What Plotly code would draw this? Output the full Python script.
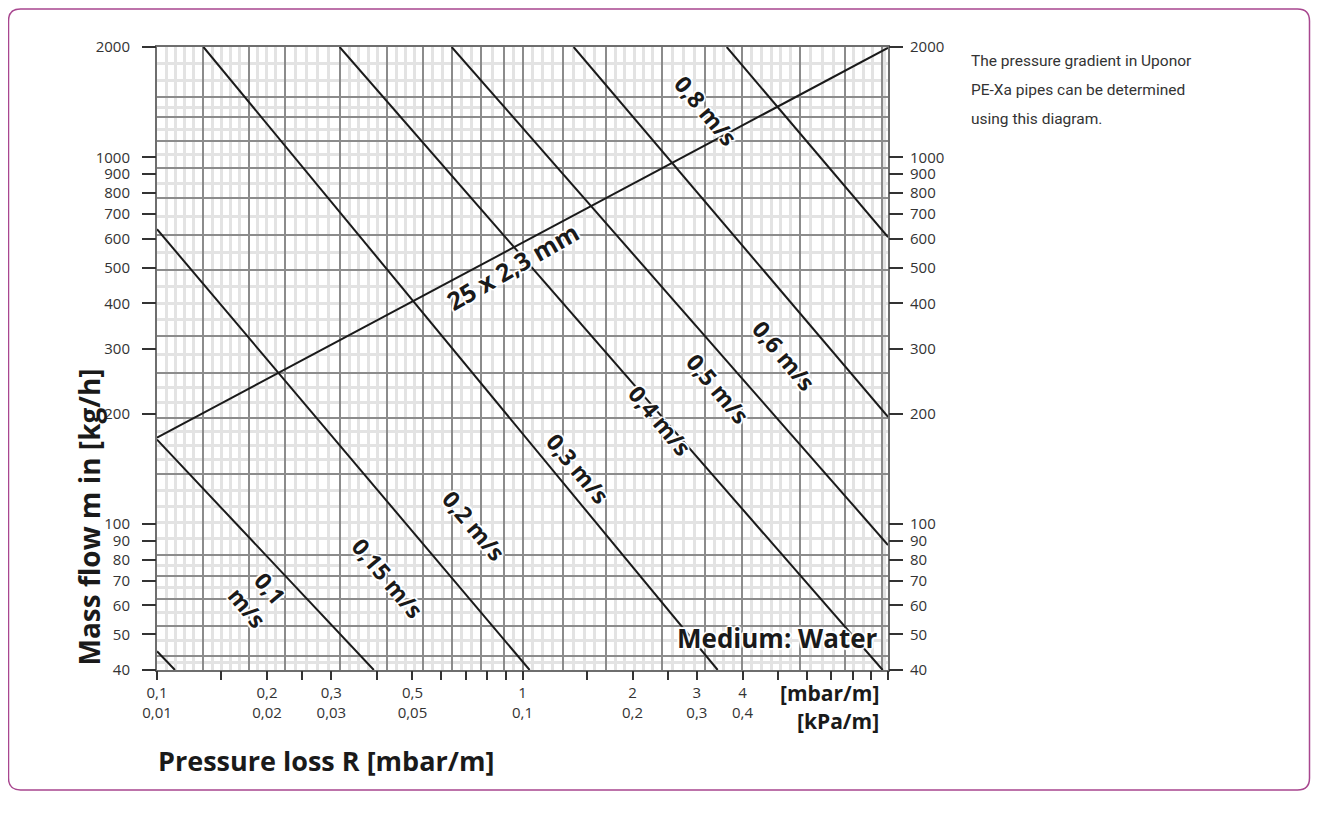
import numpy as np
import plotly.graph_objects as go

# ---------------- data ----------------
pipe_label = "25 x 2,3 mm"
pipe_x = [0.1, 10.0]
pipe_y = [172, 1990]

velocity_labels = ["0,1<br>m/s", "0,15 m/s", "0,2 m/s", "0,3 m/s",
                   "0,4 m/s", "0,5 m/s", "0,6 m/s", "0,8 m/s"]
velocity_x = [[0.1, 0.112], [0.1, 0.392], [0.1, 1.046], [0.134, 3.42],
              [0.316, 9.67], [0.640, 10.0], [1.38, 10.0], [3.62, 10.0]]
velocity_y = [[45, 40], [170, 40], [637, 40], [2000, 40],
              [2000, 40], [2000, 87.7], [2000, 196], [2000, 606]]
# label anchor points (pressure loss, mass flow)
velocity_label_x = [0.19, 0.428, 0.735, 1.416, 2.374, 3.42, 5.18, 3.17]
velocity_label_y = [62.9, 71.3, 99.4, 142.2, 192.1, 234.9, 288.9, 1345]
pipe_label_xy = (0.94, 505)
medium_label = "Medium: Water"
medium_label_xy = (10.0, 48.9)

y_tick_vals = [40, 50, 60, 70, 80, 90, 100, 200, 300, 400, 500, 600, 700,
               800, 900, 1000, 2000]
x_tick_vals = [0.1, 0.15, 0.2, 0.25, 0.3, 0.4, 0.5, 0.6, 0.7, 0.8, 0.9, 1,
               1.5, 2, 2.5, 3, 4, 5, 6, 7, 8, 9, 10]
x_tick_mbar = {0.1: "0,1", 0.2: "0,2", 0.3: "0,3", 0.5: "0,5", 1: "1",
               2: "2", 3: "3", 4: "4"}
x_tick_kpa = {0.1: "0,01", 0.2: "0,02", 0.3: "0,03", 0.5: "0,05", 1: "0,1",
              2: "0,2", 3: "0,3", 4: "0,4"}

# background graph-paper lines (independent of the axis ticks)
paper_h_major = [43.7, 52.8, 62.6, 72.2, 82.5, 137, 195, 259, 325, 493, 616,
                 773, 935, 1109, 1285, 1462]
paper_v_major = [0.1336, 0.1785, 0.2236, 0.3161, 0.427, 0.5343, 0.64, 0.7685,
                 0.8884, 1.003, 1.288, 1.689, 2.414, 3.151, 3.997, 5.733,
                 7.612, 9.612]

X_RANGE = (0.1, 10.0)
Y_RANGE = (40, 2000)

# page offset of the plotly div inside the browser window
OFF = 8
W, H = 1314, 808
ML, MR, MT, MB = 149, 434, 39, 146
PW, PH = W - ML - MR, H - MT - MB


def px_x(px):
    return (px - OFF - ML) / PW


def px_y(py):
    return (H - MB - (py - OFF)) / PH


def subdivide(edges, lo, hi, step_px, px_per_decade):
    pts = [lo] + sorted(edges) + [hi]
    out = []
    for a, b in zip(pts[:-1], pts[1:]):
        gap = np.log10(b / a) * px_per_decade
        n = max(2, int(round(gap / step_px)))
        for k in range(1, n):
            out.append(float(a * (b / a) ** (k / n)))
    return out


paper_h_minor = subdivide(paper_h_major, *Y_RANGE, 15, PH / np.log10(50))
paper_v_minor = subdivide(paper_v_major, *X_RANGE, 10, PW / 2)

FONT = "Open Sans"
SIDE_FONT = "Roboto"
INK = "#1a1a1a"
TXT = "#333333"
DARK_GRID = "#8c8c8c"
LIGHT_GRID = "#e3e3e3"
HALO = ("white 1px 1px 1px, white -1px -1px 1px, white 1px -1px 1px, "
        "white -1px 1px 1px, white 0px 2px 1px, white 0px -2px 1px, "
        "white 2px 0px 1px, white -2px 0px 1px")

fig = go.Figure()

for vx, vy in zip(velocity_x, velocity_y):
    fig.add_trace(go.Scatter(x=vx, y=vy, mode="lines",
                             line=dict(color=INK, width=2),
                             showlegend=False, hoverinfo="skip"))
fig.add_trace(go.Scatter(x=pipe_x, y=pipe_y, mode="lines",
                         line=dict(color=INK, width=2),
                         showlegend=False, hoverinfo="skip"))
# empty traces to host the tick axes
fig.add_trace(go.Scatter(x=[], y=[], xaxis="x2", yaxis="y2",
                         showlegend=False, hoverinfo="skip"))
fig.add_trace(go.Scatter(x=[], y=[], xaxis="x2", yaxis="y3",
                         showlegend=False, hoverinfo="skip"))

lx = [np.log10(X_RANGE[0]), np.log10(X_RANGE[1])]
ly = [np.log10(Y_RANGE[0]), np.log10(Y_RANGE[1])]

fig.update_layout(
    width=W, height=H,
    margin=dict(l=ML, r=MR, t=MT, b=MB),
    paper_bgcolor="white", plot_bgcolor="white",
    font=dict(family=FONT, color=TXT, size=15),
    xaxis=dict(type="log", range=lx, showgrid=True, gridcolor=DARK_GRID,
               gridwidth=2, tickvals=paper_v_major, showticklabels=False,
               ticks="", zeroline=False, showline=True, linecolor="#6e6e6e",
               linewidth=2, mirror=True,
               minor=dict(tickvals=paper_v_minor, showgrid=True,
                          gridcolor=LIGHT_GRID, gridwidth=2.5, ticks="")),
    yaxis=dict(type="log", range=ly, showgrid=True, gridcolor=DARK_GRID,
               gridwidth=2, tickvals=paper_h_major, showticklabels=False,
               ticks="", zeroline=False, showline=True, linecolor="#6e6e6e",
               linewidth=2, mirror=True,
               minor=dict(tickvals=paper_h_minor, showgrid=True,
                          gridcolor=LIGHT_GRID, gridwidth=2.5, ticks="")),
    xaxis2=dict(type="log", range=lx, overlaying="x", side="bottom",
                anchor="y", showgrid=False, zeroline=False,
                tickvals=x_tick_vals,
                ticktext=[(x_tick_mbar[v] + "<br>" + x_tick_kpa[v])
                          if v in x_tick_mbar else "" for v in x_tick_vals],
                ticks="outside", ticklen=9, tickwidth=1.5, tickcolor=TXT,
                tickfont=dict(family=FONT, size=15, color=TXT),
                showline=False),
    yaxis2=dict(type="log", range=ly, overlaying="y", side="left",
                anchor="x", showgrid=False, zeroline=False,
                tickvals=y_tick_vals, ticktext=[str(v) for v in y_tick_vals],
                ticks="outside", ticklen=14, tickwidth=1.5, tickcolor=TXT,
                ticklabelstandoff=9,
                tickfont=dict(family=FONT, size=15, color=TXT)),
    yaxis3=dict(type="log", range=ly, overlaying="y", side="right",
                anchor="x", showgrid=False, zeroline=False,
                tickvals=y_tick_vals, ticktext=[str(v) for v in y_tick_vals],
                ticks="outside", ticklen=14, tickwidth=1.5, tickcolor=TXT,
                ticklabelstandoff=4,
                tickfont=dict(family=FONT, size=15, color=TXT)),
)

ann = []
for lab, x, y in zip(velocity_labels, velocity_label_x, velocity_label_y):
    ann.append(dict(x=np.log10(x), y=np.log10(y), xref="x", yref="y",
                    xanchor="center", yanchor="middle",
                    text="<b>" + lab + "</b>", showarrow=False, textangle=50,
                    font=dict(family=FONT, size=23, color=INK, shadow=HALO)))
ann.append(dict(x=np.log10(pipe_label_xy[0]), y=np.log10(pipe_label_xy[1]),
                xref="x", yref="y", xanchor="center", yanchor="middle",
                text="<b>" + pipe_label + "</b>",
                showarrow=False, textangle=-30,
                font=dict(family=FONT, size=25, color=INK, shadow=HALO)))
ann.append(dict(x=np.log10(medium_label_xy[0]), y=np.log10(medium_label_xy[1]),
                xref="x", yref="y", xanchor="right", yanchor="middle",
                xshift=-8, text="<b>" + medium_label + "</b>",
                showarrow=False,
                font=dict(family=FONT, size=26, color=INK, shadow=HALO)))

# axis titles and unit captions
ann.append(dict(x=px_x(88), y=px_y(668), xref="paper", yref="paper",
                xanchor="center", yanchor="bottom",
                text="<b>Mass flow m in [kg/h]</b>", textangle=-90,
                showarrow=False, font=dict(family=FONT, size=28, color=INK)))
ann.append(dict(x=px_x(156), y=px_y(760), xref="paper", yref="paper",
                xanchor="left", yanchor="middle",
                text="<b>Pressure loss R [mbar/m]</b>",
                showarrow=False, font=dict(family=FONT, size=27, color=INK)))
ann.append(dict(x=px_x(881), y=px_y(693), xref="paper", yref="paper",
                xanchor="right", yanchor="middle", text="<b>[mbar/m]</b>",
                showarrow=False, font=dict(family=FONT, size=21, color=INK)))
ann.append(dict(x=px_x(881), y=px_y(721), xref="paper", yref="paper",
                xanchor="right", yanchor="middle", text="<b>[kPa/m]</b>",
                showarrow=False, font=dict(family=FONT, size=21, color=INK)))

side_text = ["The pressure gradient in Uponor", "PE-Xa pipes can be determined",
             "using this diagram."]
for i, t in enumerate(side_text):
    ann.append(dict(x=px_x(969), y=px_y(61 + 29 * i), xref="paper",
                    yref="paper", xanchor="left", yanchor="middle", text=t,
                    showarrow=False,
                    font=dict(family=SIDE_FONT, size=15.5, color=TXT)))

fig.update_layout(annotations=ann)

# rounded frame around the whole panel
x0, x1 = px_x(8.5), px_x(1309.5)
y0, y1 = px_y(790), px_y(9)
rx, ry = 12 / PW, 12 / PH
path = (f"M {x0+rx},{y0} L {x1-rx},{y0} Q {x1},{y0} {x1},{y0+ry} "
        f"L {x1},{y1-ry} Q {x1},{y1} {x1-rx},{y1} L {x0+rx},{y1} "
        f"Q {x0},{y1} {x0},{y1-ry} L {x0},{y0+ry} Q {x0},{y0} {x0+rx},{y0} Z")
fig.add_shape(type="path", path=path, xref="paper", yref="paper",
              line=dict(color="#a8468f", width=1.5), layer="below")

fig.write_html("out.html")
